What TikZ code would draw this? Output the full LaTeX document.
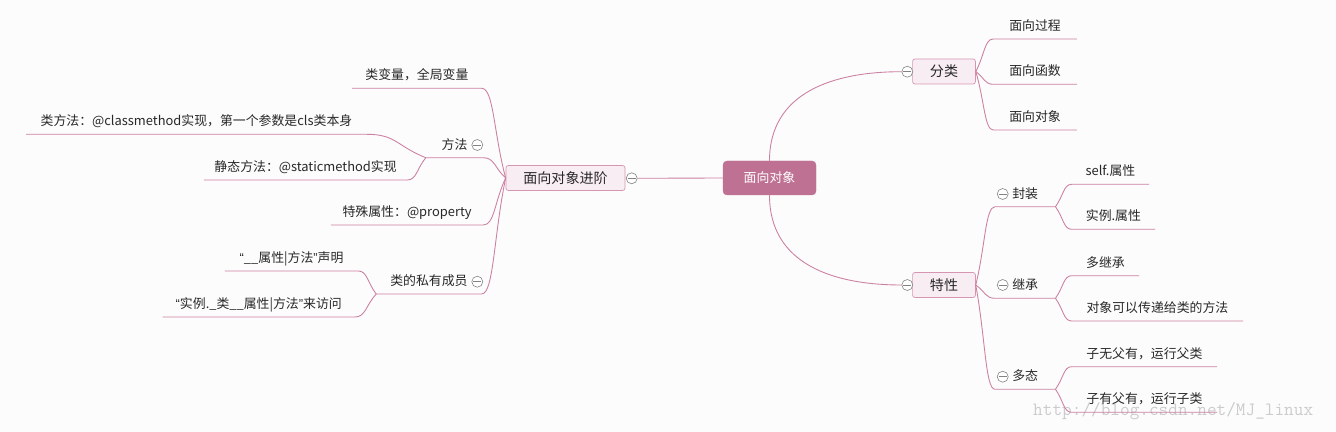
\documentclass[tikz,border=0pt]{standalone}
\usepackage{fontspec}
\setmainfont{Noto Sans CJK SC}
\newfontfamily\qtfont{Liberation Sans}
\usetikzlibrary{calc}
\definecolor{bgcol}{RGB}{252,252,252}
\definecolor{linecol}{RGB}{204,128,162}
\definecolor{corefill}{RGB}{191,113,147}
\definecolor{boxfill}{RGB}{248,237,243}
\definecolor{boxline}{RGB}{214,150,178}
\definecolor{foldcol}{RGB}{130,130,130}
\definecolor{txtcol}{RGB}{40,40,40}
\definecolor{wmcol}{RGB}{204,204,204}
\newcommand{\pxu}{0.03cm}
\newcommand{\qopen}{{\qtfont “}}
\newcommand{\qclose}{{\qtfont ”}}
\tikzset{
  core/.style={fill=corefill, draw=corefill, rounded corners=3.5pt, minimum width=93*\pxu,
    minimum height=34*\pxu, inner sep=0pt, text=white, font=\fontsize{11}{13}\selectfont},
  topic/.style={fill=boxfill, draw=boxline, line width=0.6pt, rounded corners=2pt,
    minimum height=25*\pxu, inner xsep=0.52cm, inner ysep=0pt, text=txtcol,
    font=\fontsize{12}{14}\selectfont},
  leaf/.style={inner sep=0pt, minimum height=25*\pxu, text height=0.85em, text depth=0.15em,
    text=txtcol, font=\fontsize{11}{13}\selectfont},
  leafR/.style={leaf, anchor=south west},
  leafL/.style={leaf, anchor=south east},
  fold/.style={circle, draw=foldcol, fill=white, line width=0.5pt, minimum size=11*\pxu,
    inner sep=0pt, path picture={\draw[foldcol, line width=0.5pt]
      ([xshift=1.3pt]path picture bounding box.west) -- ([xshift=-1.3pt]path picture bounding box.east);}},
  wm/.style={anchor=base west, inner sep=0pt, text=wmcol, font=\fontsize{16}{18}\ttfamily},
  conn/.style={draw=linecol, line width=0.75pt},
  branch/.style={to path={let \p1=(\tikztostart), \p2=(\tikztotarget) in
    .. controls ($(\p1)+0.5*(\x2-\x1,\y2-\y1)$) and ($(\p2)-0.5*(\x2-\x1,0)$) .. (\tikztotarget)}},
}
\begin{document}
\begin{tikzpicture}[x=0.03cm, y=0.03cm]
\fill[bgcol] (0,0) rectangle (1336,-432);
\useasboundingbox (0,0) rectangle (1336,-432);

\node[wm] (wm) at (1033,-416) {http://blog.csdn.net/MJ\_linux};

\node[core] (core) at (769.5,-178) {面向对象};
\node[topic] (adv) at (565.5,-178) {面向对象进阶};
\node[topic] (fl) at (944,-71.5) {分类};
\node[topic] (tx) at (944,-285) {特性};

\node[leafR, minimum width=83*\pxu] (gc) at (993.3,-39) {面向过程};
\node[leafR, minimum width=83*\pxu] (hs) at (993.3,-84.3) {面向函数};
\node[leafR, minimum width=83*\pxu] (dx) at (993.3,-130) {面向对象};

\node[leafR, minimum width=60*\pxu] (fz) at (995,-206.7) {封装};
\node[leafR, minimum width=60*\pxu] (jc) at (995,-298.3) {继承};
\node[leafR, minimum width=60*\pxu] (dt) at (995,-389.3) {多态};

\node[leafR, minimum width=77*\pxu] (sa) at (1071.7,-184.3) {self.属性};
\node[leafR, minimum width=83*\pxu] (sl) at (1071.7,-229.3) {实例.属性};
\node[leafR, minimum width=67*\pxu] (dj) at (1071.7,-275.7) {多继承};
\node[leafR, minimum width=171*\pxu] (cd) at (1071.7,-321) {对象可以传递给类的方法};
\node[leafR, minimum width=145*\pxu] (zw) at (1071.7,-366.7) {子无父有，运行父类};
\node[leafR, minimum width=145*\pxu] (zy) at (1071.7,-412.3) {子有父有，运行子类};

\node[leafL, minimum width=129*\pxu] (cv) at (481.7,-88.3) {类变量，全局变量};
\node[leafL, minimum width=57*\pxu] (ff) at (483.3,-157.7) {方法};
\node[leafL, minimum width=152*\pxu] (sp) at (483.3,-225) {特殊属性：@property};
\node[leafL, minimum width=105*\pxu] (sm) at (481.7,-294) {类的私有成员};

\node[leafL, minimum width=340*\pxu] (cm) at (366.7,-134.3) {类方法：@classmethod实现，第一个参数是cls类本身};
\node[leafL, minimum width=203*\pxu] (st) at (407.3,-180) {静态方法：@staticmethod实现};
\node[leafL, minimum width=133*\pxu] (pd) at (358.3,-271) {\qopen\_\_属性|方法\qclose 声明};
\node[leafL, minimum width=192*\pxu] (pv) at (355,-317) {\qopen 实例.\_类\_\_属性|方法\qclose 来访问};

\node[fold] (advfold) at (631.7,-178.3) {};
\node[fold] (flfold) at (907.3,-71.7) {};
\node[fold] (txfold) at (907.3,-285) {};
\node[fold] (fffold) at (477.3,-145) {};
\node[fold] (smfold) at (477.3,-281.7) {};
\node[fold] (fzfold) at (1002.7,-194) {};
\node[fold] (jcfold) at (1002.7,-285) {};
\node[fold] (dtfold) at (1002.7,-376.7) {};

\draw[conn] (core.west) -- (advfold.east);
\draw[conn] (core.north) to[out=90,in=180,looseness=1.1] (flfold.west);
\draw[conn] (core.south) to[out=-90,in=180,looseness=1.1] (txfold.west);

\foreach \c in {gc,hs,dx}
  \draw[conn] (fl.east) to[branch] (\c.south west) -- (\c.south east);
\foreach \c in {fz,jc,dt}
  \draw[conn] (tx.east) to[branch] (\c.south west) -- (\c.south east);
\foreach \p/\c in {fz/sa,fz/sl,jc/dj,jc/cd,dt/zw,dt/zy}
  \draw[conn] (\p.south east) to[branch] (\c.south west) -- (\c.south east);

\foreach \c in {cv,ff,sp,sm}
  \draw[conn] (adv.west) to[branch] (\c.south east) -- (\c.south west);
\foreach \p/\c in {ff/cm,ff/st,sm/pd,sm/pv}
  \draw[conn] (\p.south west) to[branch] (\c.south east) -- (\c.south west);
\end{tikzpicture}
\end{document}
